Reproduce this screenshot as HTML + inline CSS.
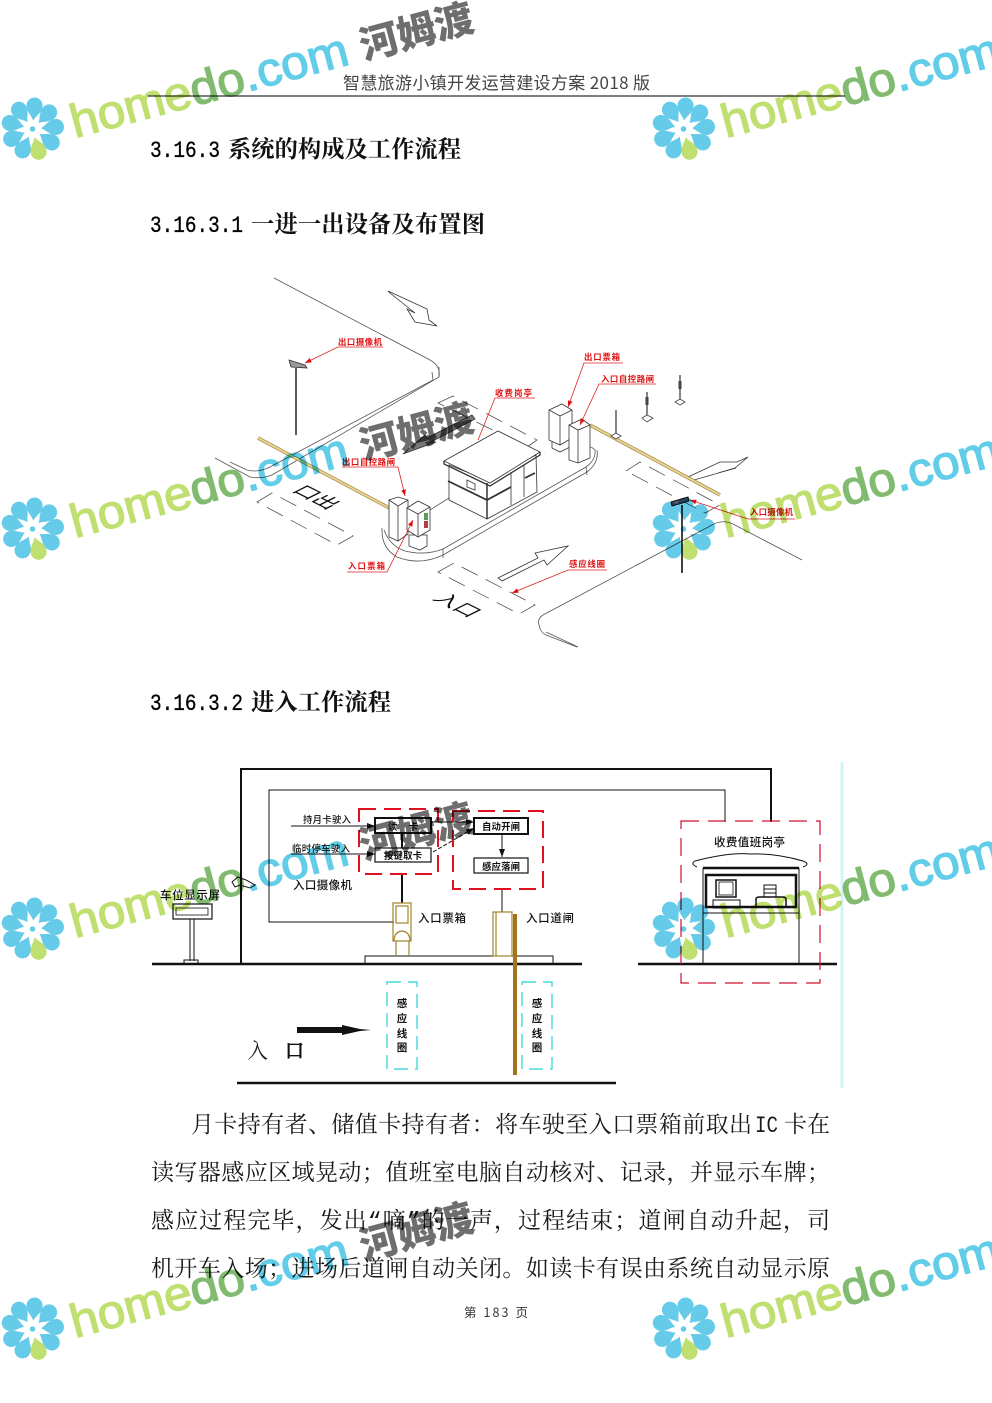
<!DOCTYPE html>
<html><head><meta charset="utf-8"><style>
html,body{margin:0;padding:0;background:#fff}
svg{display:block}
.h{font-family:"Noto Serif CJK SC","Liberation Serif",serif;font-weight:700;font-size:23.3px;fill:#111}
.m{font-family:"Liberation Mono",monospace;font-weight:400;font-size:23px;stroke:#111;stroke-width:.35}
.b{font-family:"Liberation Mono","Noto Serif CJK SC",serif;font-size:23px;fill:#1a1a1a}
.r{font-family:"Noto Sans CJK SC",sans-serif;font-size:8.4px;font-weight:700;fill:#e01010}
.k{font-family:"Noto Sans CJK SC",sans-serif;font-size:11.5px;font-weight:500;fill:#111}
.s{font-family:"Noto Sans CJK SC",sans-serif;font-size:9.4px;font-weight:700;fill:#111}
.kb{font-family:"Noto Sans CJK SC",sans-serif;font-size:10.5px;font-weight:700;fill:#111}
.w1{font-family:"Liberation Sans",sans-serif;font-size:47px;stroke-width:1.3}
.g1{fill:#bfdf70;stroke:#bfdf70}.g2{fill:#80bb70;stroke:#80bb70}.g3{fill:#62cde8;stroke:#62cde8}
.w2{font-family:"Noto Sans CJK SC",sans-serif;font-size:39px;font-weight:900;fill:#6e6e6e}
</style></head><body>
<svg xmlns="http://www.w3.org/2000/svg" width="992" height="1403" viewBox="0 0 992 1403">
<defs>
<path id="p" d="M0,-8C-2.5,-13 -7.5,-16 -7.5,-22A7.5,7.5 0 0 1 7.5,-22C7.5,-16 2.5,-13 0,-8Z"/>
<g id="logo">
<g transform="translate(32.5,129) scale(1.07)" fill="#66cbe8">
<use href="#p" transform="rotate(205)"/><use href="#p" transform="rotate(245)"/><use href="#p" transform="rotate(285)"/><use href="#p" transform="rotate(325)"/><use href="#p" transform="rotate(5)"/><use href="#p" transform="rotate(45)"/><use href="#p" transform="rotate(85)"/><use href="#p" transform="rotate(125)"/>
<use href="#p" transform="rotate(165)" fill="#bfdf70"/><circle r="2.6"/>
</g></g>
<marker id="ar" viewBox="0 0 8 6" refX="8" refY="3" markerWidth="8" markerHeight="6" orient="auto"><path d="M0,0L8,3L0,6Z" fill="#e01010"/></marker>
<marker id="ak" viewBox="0 0 8 6" refX="8" refY="3" markerWidth="8" markerHeight="6" orient="auto"><path d="M0,0L8,3L0,6Z" fill="#111"/></marker>
</defs>

<!-- page text -->
<text x="343" y="89" font-family="'Noto Sans CJK SC',sans-serif" font-size="17" fill="#444" textLength="307">智慧旅游小镇开发运营建设方案 2018 版</text>
<line x1="148" y1="96" x2="845" y2="96" stroke="#555" stroke-width="1.5"/>
<text class="m" x="150" y="157" textLength="70" lengthAdjust="spacingAndGlyphs">3.16.3</text>
<text class="h" x="228" y="157" textLength="233">系统的构成及工作流程</text>
<text class="m" x="150" y="232" textLength="93" lengthAdjust="spacingAndGlyphs">3.16.3.1</text>
<text class="h" x="251" y="232" textLength="234">一进一出设备及布置图</text>
<text class="m" x="150" y="710" textLength="93" lengthAdjust="spacingAndGlyphs">3.16.3.2</text>
<text class="h" x="251" y="710" textLength="140">进入工作流程</text>

<text class="b" x="191" y="1132" textLength="561">月卡持有者、储值卡持有者：将车驶至入口票箱前取出</text>
<text class="b" x="755" y="1132" textLength="23" lengthAdjust="spacingAndGlyphs">IC</text>
<text class="b" x="784" y="1132" textLength="46">卡在</text>
<text class="b" x="151" y="1180" textLength="679">读写器感应区域晃动；值班室电脑自动核对、记录，并显示车牌；</text>
<text class="b" x="151" y="1228" textLength="679">感应过程完毕，发出“嘀”的一声，过程结束；道闸自动升起，司</text>
<text class="b" x="151" y="1276" textLength="679">机开车入场；进场后道闸自动关闭。如读卡有误由系统自动显示原</text>
<text x="464" y="1317" font-family="'Noto Sans CJK SC',sans-serif" font-size="12.5" fill="#333" textLength="64">第 183 页</text>

<!-- diagram 1 -->
<g fill="none" stroke="#555" stroke-width="0.8">
<path d="M274,278L430,360Q441,366 439,377L272,475Q262,479 250,477L215,458"/>
<path d="M439,367L439,377M433,380L270,467Q258,473 247,470L230,462M433,380L432,372"/>
<path d="M802,560L733,524Q722,519 712,525L543,615Q537,619 539,625Q540,632 546,635L577,647M546,632L578,647"/>
<path d="M382,528Q381,548 397,557Q420,566 443,555L587,472Q599,463 597,450"/>
<path d="M384,530Q390,546 405,551Q425,556 443,549L586,467Q596,460 595,450Q592,447 590,447M443,549L443,558M586,467L587,475"/>
<path d="M430,510L449,498"/>
<g stroke-dasharray="18 9"><path d="M257,502L272,493L353,536L337,545Z"/><path d="M438,403L453,396L537,440L527,447Z"/><path d="M438,572L454,563L535,605L519,614Z"/><path d="M626,471L640,462L720,505L705,513Z"/></g>
</g>
<g fill="#fff" stroke="#333" stroke-width="0.8">
<path d="M388,291L427,309L429,320L437,326L415,322L407,309L415,313L390,293Z"/>
<path d="M403,454L425,435L427,438L472,415L475,419L431,442L436,442Z" fill="#777"/>
<path d="M498,578L538,558L535,553L568,546L547,565L544,560L502,581Z"/>
<path d="M688,477L720,462L737,462L748,457L735,468L718,473L736,468L694,480Z"/>
<path d="M289,360L305,365L307,368L291,367Z" fill="#999"/>
</g>
<line x1="296" y1="368" x2="296" y2="435" stroke="#333" stroke-width="1.6"/>
<line x1="682" y1="505" x2="682" y2="573" stroke="#111" stroke-width="1.6"/>
<path d="M671,502L688,497L689,501L672,506Z" fill="#556" stroke="#111"/>
<!-- barriers -->
<line x1="258" y1="438" x2="393" y2="510" stroke="#9c8a50" stroke-width="3.4"/>
<line x1="258" y1="438" x2="393" y2="510" stroke="#ecd28a" stroke-width="2"/>
<line x1="590" y1="425" x2="720" y2="495" stroke="#9c8a50" stroke-width="3.4"/>
<line x1="590" y1="425" x2="720" y2="495" stroke="#ecd28a" stroke-width="2"/>
<!-- booth -->
<g stroke="#333" stroke-width="0.8" fill="#fff">
<path d="M449,465L449,500L487,519L537,492L536,455L487,480Z"/>
<path d="M444,461L498,431L540,452L490,483Z"/>
<path d="M444,461L444,464L490,486L540,455L540,452" fill="none" stroke-width="1.3"/>
<path d="M511,472V505M524,465V497" fill="none"/>
<path d="M448,481L487,500L511,487" fill="none" stroke-width="1.8"/>
<path d="M487,483V519" fill="none" stroke-width="1.5"/>
<path d="M525,478L535,473" fill="none" stroke-width="1.8"/>
<path d="M467,480L475,484V490L467,487Z"/>
</g>
<!-- machines left -->
<g stroke="#333" stroke-width="0.8" fill="#fff">
<path d="M389,500L398,497L408,500V534L398,541L389,537Z"/><path d="M389,500L398,506L408,500M398,506V541" fill="none"/>
<path d="M409,535V546L420,550L427,546V535Z"/>
<path d="M407,508L418,501L430,507V530L418,537L407,530Z"/><path d="M407,508L418,514L430,507M418,514V537" fill="none"/>
</g>
<rect x="424" y="513" width="4" height="7" fill="#5a9a5a"/><rect x="424" y="521" width="4" height="7" fill="#b04040"/>
<!-- machines right -->
<g stroke="#333" stroke-width="0.8" fill="#fff">
<path d="M552,437V448L560,452L570,447V437Z"/>
<path d="M549,410L562,404L572,410V438L560,445L549,440Z"/><path d="M549,410L560,416L572,410M560,416V445" fill="none"/>
<path d="M569,425L582,419L590,425V458L578,463L569,460Z"/><path d="M569,425L578,430L590,425M578,430V463" fill="none"/>
</g>
<!-- bollards -->
<g stroke="#444" stroke-width="1.3" fill="#fff">
<path d="M680,375V400M647,392V416M616,410V436"/>
<path d="M680,381V389M647,397V405" stroke-width="3"/>
<path d="M675,402L680,399L685,402L680,405Z" stroke-width=".8"/><path d="M642,418L647,415L653,418L647,422Z" stroke-width=".8"/><path d="M611,436L616,433L621,436L616,439Z" stroke-width=".8"/>
</g>
<!-- ground text -->
<g font-family="'Noto Sans CJK SC',sans-serif" font-size="21" fill="#111">
<text transform="matrix(.9,.45,-.9,.45,291,491)">口出</text>
<text transform="matrix(.9,.45,-.9,.45,432,599)">入口</text>
</g>
<!-- red labels -->
<g fill="none" stroke="#e02020" stroke-width="0.8">
<path d="M383,347H338L305,363" marker-end="url(#ar)"/>
<path d="M398,467H342M398,467L405,496" marker-end="url(#ar)"/>
<path d="M347,572H387L413,520" marker-end="url(#ar)"/>
<path d="M535,398H495L478,440"/>
<path d="M623,363H584L568,407" marker-end="url(#ar)"/>
<path d="M656,384H599L580,425" marker-end="url(#ar)"/>
<path d="M607,570H568L512,593" marker-end="url(#ar)"/>
<path d="M795,519H748L690,500" marker-end="url(#ar)"/>
</g>
<text class="r" x="338" y="345" textLength="44">出口摄像机</text>
<text class="r" x="342" y="465" textLength="53">出口自控路闸</text>
<text class="r" x="348" y="569" textLength="37">入口票箱</text>
<text class="r" x="495" y="396" textLength="37">收费岗亭</text>
<text class="r" x="584" y="360" textLength="36">出口票箱</text>
<text class="r" x="601" y="382" textLength="53">入口自控路闸</text>
<text class="r" x="569" y="567" textLength="36">感应线圈</text>
<text class="r" x="750" y="515" textLength="43">入口摄像机</text>

<!-- diagram 2 -->
<line x1="842" y1="762" x2="842" y2="1088" stroke="#d4f3f6" stroke-width="3"/>
<g fill="none" stroke="#111">
<path d="M241,964V769H771V822" stroke-width="2"/>
<path d="M394,922H269V790H725V822" stroke-width="1"/>
<path d="M152,964H582M638,964H837M237,1083H616" stroke-width="2.4"/>
<path d="M365,964V956H553V964" stroke-width="1"/>
<path d="M402,833V848M402,874V903" stroke-width="2"/>
<path d="M502,889V912" stroke-width="1"/>
<rect x="375" y="818" width="56" height="15" stroke-width="2"/>
<rect x="375" y="848" width="56" height="14" stroke-width="1.2"/>
<rect x="474" y="818" width="54" height="16" stroke-width="2"/>
<rect x="474" y="858" width="54" height="15" stroke-width="1.2"/>
<path d="M291,826H375" marker-end="url(#ak)"/>
<path d="M291,854H375" marker-end="url(#ak)"/>
<path d="M431,822H474" marker-end="url(#ak)"/>
<path d="M433,852L474,828" stroke-dasharray="4 2" marker-end="url(#ak)"/>
<path d="M502,834V857" marker-end="url(#ak)"/>
<rect x="173" y="904" width="39" height="15" stroke-width="1.2"/>
<rect x="176" y="908" width="32" height="7" stroke-width=".8"/>
<path d="M190,919V961M194,919V961" stroke-width="1"/>
<rect x="184" y="960" width="14" height="4" stroke-width="1"/>
<path d="M232,882L238,877L246,880L255,885L250,888L240,885L235,887Z" stroke-width="1"/>
</g>
<g fill="none" stroke="#e01020" stroke-width="2" stroke-dasharray="17 8">
<rect x="359" y="809" width="79" height="65"/><rect x="453" y="811" width="90" height="78"/>
</g>
<rect x="681" y="821" width="139" height="162" fill="none" stroke="#d01030" stroke-width="1.2" stroke-dasharray="18 9"/>
<g fill="none" stroke="#a08428" stroke-width="1.2">
<rect x="393" y="903" width="18" height="38"/><rect x="396" y="906" width="12" height="17"/>
<path d="M394,941Q394,932 402,931Q410,932 410,941M396,941V956M409,941V956"/>
<rect x="493" y="912" width="19" height="44"/><path d="M496,912V956"/>
</g>
<line x1="515" y1="914" x2="515" y2="1075" stroke="#a5731c" stroke-width="4"/>
<g fill="none" stroke="#25d2d8" stroke-width="1.2" stroke-dasharray="14 7">
<rect x="387" y="982" width="30" height="87"/><rect x="522" y="982" width="30" height="87"/>
</g>
<path d="M297,1027H342V1025L360,1029L371,1030L360,1031L342,1035V1033H297Z" fill="#111"/>
<text class="k" x="303" y="823" style="font-size:9.4px" textLength="48">持月卡驶入</text>
<text class="k" x="292" y="852" style="font-size:9.4px" textLength="58">临时停车驶入</text>
<text class="k" x="293" y="889" textLength="59">入口摄像机</text>
<text class="k" x="418" y="922" textLength="48">入口票箱</text>
<text class="k" x="526" y="922" textLength="48">入口道闸</text>
<text class="k" x="160" y="899" textLength="60">车位显示屏</text>
<text class="k" x="714" y="846" textLength="71">收费值班岗亭</text>
<text class="s" x="388" y="830" textLength="30">读　卡</text>
<text class="s" x="384" y="859" textLength="38">按键取卡</text>
<text class="s" x="482" y="830" textLength="38">自动开闸</text>
<text class="s" x="482" y="870" textLength="38">感应落闸</text>
<g text-anchor="middle">
<text class="kb" x="402" y="1007">感</text><text class="kb" x="402" y="1022">应</text><text class="kb" x="402" y="1037">线</text><text class="kb" x="402" y="1051">圈</text>
<text class="kb" x="537" y="1007">感</text><text class="kb" x="537" y="1022">应</text><text class="kb" x="537" y="1037">线</text><text class="kb" x="537" y="1051">圈</text>
</g>
<text x="247" y="1058" font-family="'Noto Serif CJK SC',serif" font-size="21" fill="#222">入</text>
<text x="285" y="1057" font-family="'Noto Serif CJK SC',serif" font-size="19" fill="#111" stroke="#111" stroke-width=".8">口</text>
<!-- right booth -->
<g fill="none" stroke="#111">
<path d="M703,868V964M799,868V964" stroke-width="1"/>
<path d="M703,868H799" stroke-width="2.5"/>
<path d="M697,867Q690,864 695,861Q730,852 750,854Q775,853 803,861Q811,864 803,867" stroke-width="1"/>
<rect x="706" y="875" width="90" height="32" stroke-width="2.5"/>
<path d="M703,913H799" stroke-width="1"/>
<rect x="716" y="880" width="20" height="17" stroke-width="1.5"/>
<rect x="719" y="882" width="14" height="13" stroke-width=".8"/>
<rect x="713" y="900" width="27" height="8" stroke-width="1"/>
<rect x="764" y="885" width="12" height="12" stroke-width="1"/>
<path d="M764,889H776M764,893H776" stroke-width="1"/>
<path d="M756,908V899Q756,897 760,897H782Q786,897 786,899V908" stroke-width="1.5"/>
</g>

<!-- watermarks -->
<g style="mix-blend-mode:multiply">
<g>
<use href="#logo"/>
<text class="w1" transform="translate(75,138) rotate(-15)" textLength="286" lengthAdjust="spacingAndGlyphs"><tspan class="g1">home</tspan><tspan class="g2">do</tspan><tspan class="g3">.com</tspan></text>
<text class="w2" transform="translate(364,60) rotate(-15)" textLength="116">河姆渡</text>
</g>
<g transform="translate(651,0)">
<use href="#logo"/>
<text class="w1" transform="translate(75,138) rotate(-15)" textLength="286" lengthAdjust="spacingAndGlyphs"><tspan class="g1">home</tspan><tspan class="g2">do</tspan><tspan class="g3">.com</tspan></text>
</g>
<g transform="translate(0,400)">
<use href="#logo"/>
<text class="w1" transform="translate(75,138) rotate(-15)" textLength="286" lengthAdjust="spacingAndGlyphs"><tspan class="g1">home</tspan><tspan class="g2">do</tspan><tspan class="g3">.com</tspan></text>
<text class="w2" transform="translate(364,60) rotate(-15)" textLength="116">河姆渡</text>
</g>
<g transform="translate(651,400)">
<use href="#logo"/>
<text class="w1" transform="translate(75,138) rotate(-15)" textLength="286" lengthAdjust="spacingAndGlyphs"><tspan class="g1">home</tspan><tspan class="g2">do</tspan><tspan class="g3">.com</tspan></text>
</g>
<g transform="translate(0,800)">
<use href="#logo"/>
<text class="w1" transform="translate(75,138) rotate(-15)" textLength="286" lengthAdjust="spacingAndGlyphs"><tspan class="g1">home</tspan><tspan class="g2">do</tspan><tspan class="g3">.com</tspan></text>
<text class="w2" transform="translate(364,60) rotate(-15)" textLength="116">河姆渡</text>
</g>
<g transform="translate(651,800)">
<use href="#logo"/>
<text class="w1" transform="translate(75,138) rotate(-15)" textLength="286" lengthAdjust="spacingAndGlyphs"><tspan class="g1">home</tspan><tspan class="g2">do</tspan><tspan class="g3">.com</tspan></text>
</g>
<g transform="translate(0,1200)">
<use href="#logo"/>
<text class="w1" transform="translate(75,138) rotate(-15)" textLength="286" lengthAdjust="spacingAndGlyphs"><tspan class="g1">home</tspan><tspan class="g2">do</tspan><tspan class="g3">.com</tspan></text>
<text class="w2" transform="translate(364,60) rotate(-15)" textLength="116">河姆渡</text>
</g>
<g transform="translate(651,1200)">
<use href="#logo"/>
<text class="w1" transform="translate(75,138) rotate(-15)" textLength="286" lengthAdjust="spacingAndGlyphs"><tspan class="g1">home</tspan><tspan class="g2">do</tspan><tspan class="g3">.com</tspan></text>
</g>
</g>
</svg>
</body></html>
